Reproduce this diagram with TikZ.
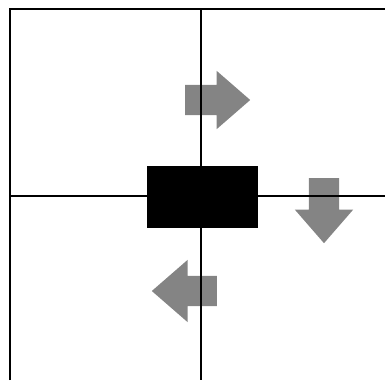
\documentclass[tikz,border=0pt]{standalone}
\usetikzlibrary{shapes.arrows}
\definecolor{arrowgray}{RGB}{132,132,132}
\tikzset{
  grayarrow/.style={single arrow, fill=arrowgray, draw=none, inner xsep=0pt,
    inner ysep=15pt, single arrow head extend=14pt, single arrow tip angle=82,
    minimum height=65pt, anchor=tail},
  gridline/.style={line width=1.7pt},
  block/.style={fill=black, inner sep=0pt, minimum width=111pt, minimum height=62pt},
}
\begin{document}
\begin{tikzpicture}[x=1pt, y=-1pt]
  \useasboundingbox (0,0) rectangle (385,380);

  % Moving arrows
  \node[grayarrow] (arrright) at (185,100) {};
  \node[grayarrow, rotate=-90] (arrdown) at (324,178) {};
  \node[grayarrow, rotate=180, single arrow head extend=16pt] (arrleft) at (217,291) {};

  % Frame and cross
  \coordinate (frametop) at (201,9);
  \coordinate (framebot) at (201,380);
  \coordinate (frameleft) at (10,196);
  \coordinate (frameright) at (385,196);
  \draw[gridline] (10,380) |- (385,9);
  \draw[gridline] (frametop) -- (framebot);
  \draw[gridline] (frameleft) -- (frameright);

  % Block
  \node[block] (blk) at (202.5,197) {};
\end{tikzpicture}
\end{document}
